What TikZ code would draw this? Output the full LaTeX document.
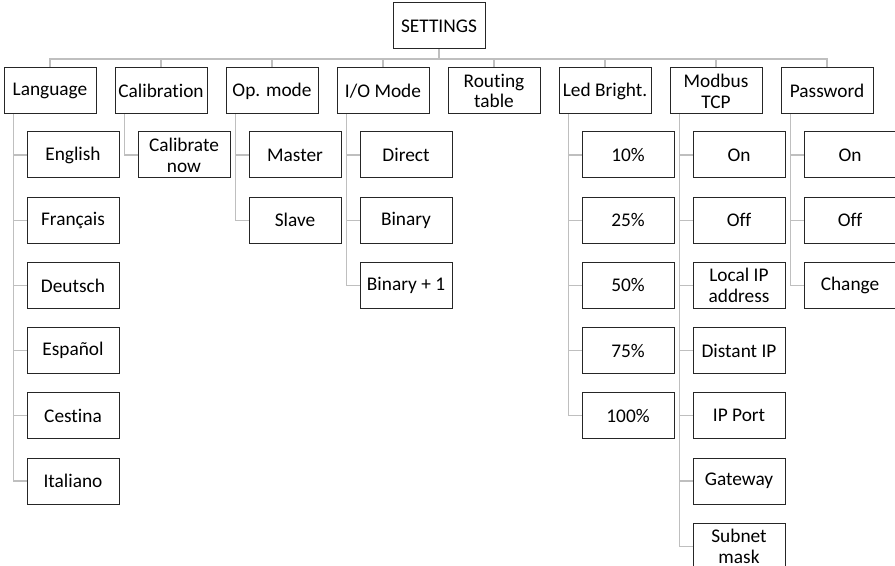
\documentclass[tikz,border=0pt]{standalone}
\usepackage{fontspec}
\setmainfont[Ligatures=NoCommon]{Carlito}
\begin{document}
\begin{tikzpicture}[x=0.75pt,y=-0.75pt,
  box/.style={draw=black!85,line width=0.75pt,fill=white,minimum width=69pt,minimum height=34.5pt,
    inner sep=0pt,align=center,font=\fontsize{14.5}{15.6}\selectfont,text=black},
  conn/.style={draw=black!25,line width=0.9pt}]
\useasboundingbox (0,0) rectangle (895,566);
\clip (0,0) rectangle (895,566);
% root
\node[box] (root) at (439,26) {SETTINGS};
\coordinate (bus) at (439,59);
% level 1
\node[box] (lang) at (50,91) {Language};
\node[box] (cal)  at (161,91) {Calibration};
\node[box] (op)   at (272,91) {Op. mode};
\node[box] (io)   at (383,91) {I/O Mode};
\node[box] (rt)   at (494,91) {Routing\\table};
\node[box] (led)  at (605,91) {Led Bright.};
\node[box] (mb)   at (716,91) {Modbus\\TCP};
\node[box] (pw)   at (827,91) {Password};
% children
\def\ry#1{155+65.2*#1}
\node[box] (en) at (73,{\ry{0}}) {English};
\node[box] (fr) at (73,{\ry{1}}) {Français};
\node[box] (de) at (73,{\ry{2}}) {Deutsch};
\node[box] (es) at (73,{\ry{3}}) {Español};
\node[box] (cs) at (73,{\ry{4}}) {Cestina};
\node[box] (it) at (73,{\ry{5}}) {Italiano};
\node[box] (cn) at (184,{\ry{0}}) {Calibrate\\now};
\node[box] (ma) at (295,{\ry{0}}) {Master};
\node[box] (sl) at (295,{\ry{1}}) {Slave};
\node[box] (di) at (406,{\ry{0}}) {Direct};
\node[box] (bi) at (406,{\ry{1}}) {Binary};
\node[box] (bp) at (406,{\ry{2}}) {Binary + 1};
\node[box] (l10) at (628,{\ry{0}}) {10\%};
\node[box] (l25) at (628,{\ry{1}}) {25\%};
\node[box] (l50) at (628,{\ry{2}}) {50\%};
\node[box] (l75) at (628,{\ry{3}}) {75\%};
\node[box] (l100) at (628,{\ry{4}}) {100\%};
\node[box] (mon) at (739,{\ry{0}}) {On};
\node[box] (moff) at (739,{\ry{1}}) {Off};
\node[box] (mloc) at (739,{\ry{2}}) {Local IP\\address};
\node[box] (mdis) at (739,{\ry{3}}) {Distant IP};
\node[box] (mport) at (739,{\ry{4}}) {IP Port};
\node[box] (mgw) at (739,{\ry{5}}) {Gateway};
\node[box] (msub) at (739,{\ry{6}}) {Subnet\\mask};
\node[box] (pon) at (850,{\ry{0}}) {On};
\node[box] (poff) at (850,{\ry{1}}) {Off};
\node[box] (pch) at (850,{\ry{2}}) {Change};
% connectors
\draw[conn] (root.south) -- (bus);
\foreach \n in {lang,cal,op,io,rt,led,mb,pw}
  \draw[conn] (bus) -| (\n.north);
\foreach \p/\cs in {lang/{en,fr,de,es,cs,it},cal/{cn},op/{ma,sl},io/{di,bi,bp},
    led/{l10,l25,l50,l75,l100},mb/{mon,moff,mloc,mdis,mport,mgw,msub},pw/{pon,poff,pch}}
  \foreach \c in \cs
    \draw[conn] ([xshift=7.5pt]\p.south west) |- (\c.west);
\end{tikzpicture}
\end{document}
